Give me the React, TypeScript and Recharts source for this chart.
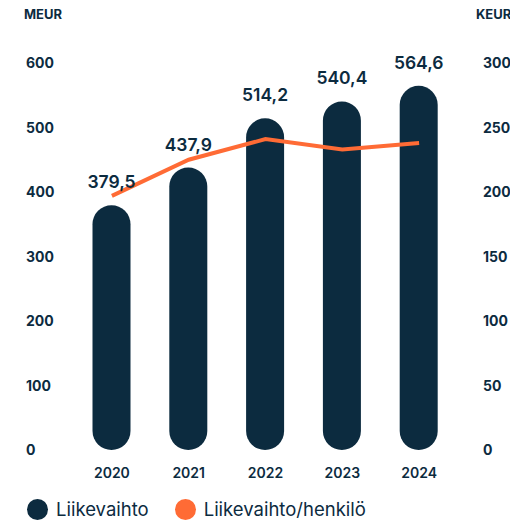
import { Bar, ComposedChart, LabelList, Line, XAxis, YAxis } from "recharts"

const years = ["2020", "2021", "2022", "2023", "2024"]
const revenue = [379.5, 437.9, 514.2, 540.4, 564.6]
const revenuePerPerson = [197, 225, 241, 233, 238]
const leftTicks = [0, 100, 200, 300, 400, 500, 600]
const rightTicks = [0, 50, 100, 150, 200, 250, 300]
const seriesNames = ["Liikevaihto", "Liikevaihto/henkilö"]

const NAVY = "#0c2b3f"
const ORANGE = "#ff6b35"
const FONT = "Inter, 'Noto Sans', sans-serif"

const data = years.map((year, i) => ({
  year,
  revenue: revenue[i],
  perPerson: revenuePerPerson[i],
}))

function LeftTick({ y, payload }: any) {
  return (
    <text x={26} y={y} dy={5} textAnchor="start" fill={NAVY} fontSize={14} fontWeight={700} fontFamily={FONT}>
      {payload.value}
    </text>
  )
}

function RightTick({ y, payload }: any) {
  return (
    <text x={483} y={y} dy={5} textAnchor="start" fill={NAVY} fontSize={14} fontWeight={700} fontFamily={FONT}>
      {payload.value}
    </text>
  )
}

export default function App() {
  return (
    <div style={{ position: "absolute", left: 0, top: 0, width: 510, height: 520, background: "#fff", fontFamily: FONT, overflow: "hidden" }}>
      <ComposedChart width={510} height={490} data={data} margin={{ top: 63, right: 0, bottom: 10, left: 0 }}>
        <text x={24} y={19} fill={NAVY} fontSize={13} fontWeight={700} fontFamily={FONT}>MEUR</text>
        <text x={476} y={19} fill={NAVY} fontSize={13} fontWeight={700} fontFamily={FONT}>KEUR</text>
        <XAxis
          dataKey="year"
          axisLine={false}
          tickLine={false}
          height={30}
          tick={{ fill: NAVY, fontSize: 14, fontWeight: 600, fontFamily: FONT }}
          tickMargin={12}
        />
        <YAxis
          yAxisId="left"
          width={73.5}
          domain={[0, 600]}
          ticks={leftTicks}
          axisLine={false}
          tickLine={false}
          tick={<LeftTick />}
        />
        <YAxis
          yAxisId="right"
          orientation="right"
          width={52.5}
          domain={[0, 300]}
          ticks={rightTicks}
          axisLine={false}
          tickLine={false}
          tick={<RightTick />}
        />
        <Bar yAxisId="left" dataKey="revenue" fill={NAVY} barSize={38} radius={[19, 19, 19, 19]} isAnimationActive={false}>
          <LabelList
            dataKey="revenue"
            position="top"
            offset={17}
            formatter={(v: any) => String(v).replace(".", ",")}
            style={{ fill: NAVY, fontSize: 17.5, fontWeight: 600, fontFamily: FONT }}
          />
        </Bar>
        <Line
          yAxisId="right"
          dataKey="perPerson"
          type="linear"
          stroke={ORANGE}
          strokeWidth={4}
          dot={false}
          activeDot={false}
          isAnimationActive={false}
        />
      </ComposedChart>
      <div style={{ position: "absolute", top: 498, left: 27, display: "flex", alignItems: "center", color: NAVY, fontSize: 18.5 }}>
        {seriesNames.map((name, i) => (
          <div key={name} style={{ display: "flex", alignItems: "center", marginRight: 26 }}>
            <span style={{ width: 21, height: 21, borderRadius: "50%", background: i === 0 ? NAVY : ORANGE, display: "inline-block", marginRight: 8 }} />
            <span>{name}</span>
          </div>
        ))}
      </div>
    </div>
  )
}
